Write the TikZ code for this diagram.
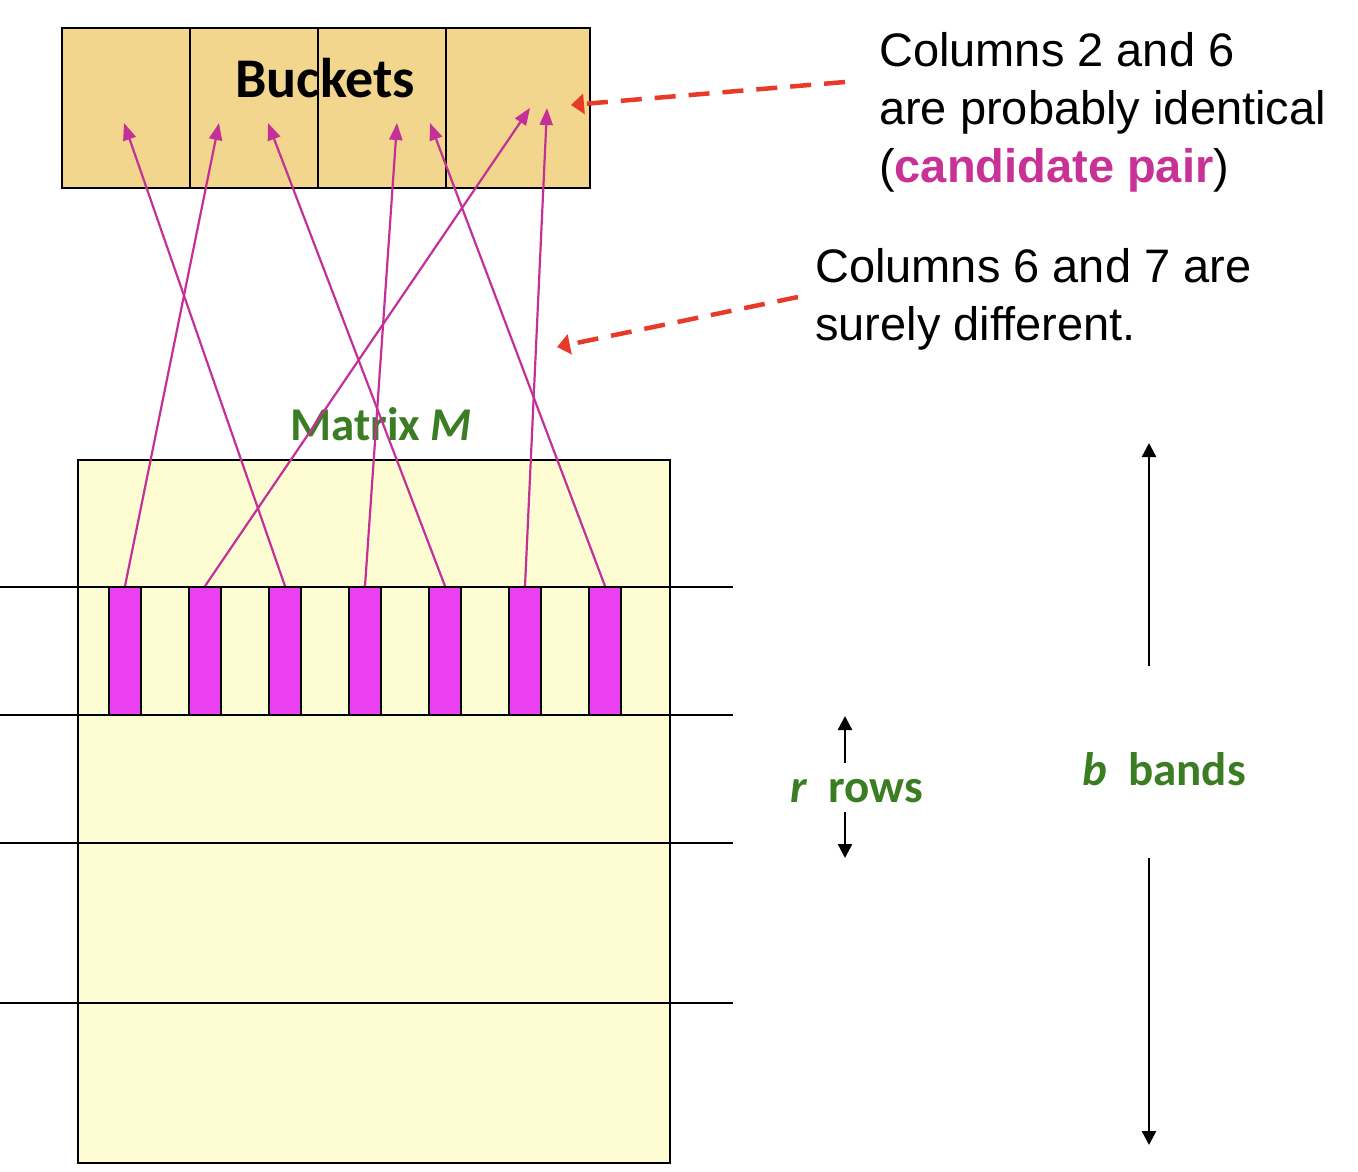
\documentclass[tikz,border=0pt]{standalone}
\usepackage{fontspec}
\setmainfont{Liberation Sans}
\newfontfamily\calfont{Carlito}
\usetikzlibrary{arrows.meta}
\definecolor{bucketfill}{RGB}{242,214,142}
\definecolor{matfill}{RGB}{254,252,211}
\definecolor{barfill}{RGB}{235,64,242}
\definecolor{magline}{RGB}{196,48,152}
\definecolor{lblgreen}{RGB}{59,125,35}
\definecolor{dashred}{RGB}{232,58,41}
\definecolor{candcol}{RGB}{200,50,150}
\begin{document}
\begin{tikzpicture}[x=1pt,y=-1pt,
  bucket/.style={draw=black,line width=2pt,fill=bucketfill,minimum width=128pt,minimum height=160pt,anchor=north west,inner sep=0pt},
  matbox/.style={draw=black,line width=2pt,fill=matfill,minimum width=592pt,minimum height=703pt,anchor=north west,inner sep=0pt},
  bar/.style={draw=black,line width=1.8pt,fill=barfill,minimum width=32pt,minimum height=128pt,inner sep=0pt},
  bandline/.style={black,line width=1.6pt},
  magarrow/.style={magline,line width=2.2pt,-{Triangle[length=17pt,width=13pt]}},
  redarrow/.style={dashred,line width=4.5pt,dash pattern=on 21pt off 13pt,-{Triangle[length=13pt,width=20pt]}},
  blkarrow/.style={black,line width=2.4pt,-{Triangle[length=14pt,width=14pt]}},
  greenlbl/.style={text=lblgreen,font=\calfont\bfseries\fontsize{47}{56}\selectfont,inner sep=0pt},
  sidetext/.style={font=\fontsize{47}{58}\selectfont,align=left,inner sep=0pt,anchor=base west}
]
\useasboundingbox (0,0) rectangle (1358,1172);

% matrix
\node[matbox] (matrix) at (77,459) {};
\draw[bandline] (0,587) -- (733,587);
\draw[bandline] (0,715) -- (733,715);
\draw[bandline] (0,843) -- (733,843);
\draw[bandline] (0,1003) -- (733,1003);
\foreach \i in {1,...,7} {
  \node[bar] (c\i) at ({45+80*\i},651) {};
}
\node[greenlbl,anchor=base] (mlabel) at (381,440) {Matrix \textit{M}};

% buckets
\node[bucket] (b1) at (61,27) {};
\node[bucket] (b2) at (189,27) {};
\node[bucket] (b3) at (317,27) {};
\node[bucket,minimum width=144pt] (b4) at (445,27) {};
\node[font=\calfont\bfseries\fontsize{56}{64}\selectfont,inner sep=0pt,anchor=base] (bklabel) at (325,97) {Buckets};

% arrow tips
\coordinate (t1) at (124,123);
\coordinate (t2) at (219,123);
\coordinate (t3) at (268,123);
\coordinate (t4) at (397,123);
\coordinate (t5) at (430,123);
\coordinate (t6) at (530,108);
\coordinate (t7) at (547,108);

\draw[magarrow] (c1.north) -- (t2);
\draw[magarrow] (c2.north) -- (t6);
\draw[magarrow] (c3.north) -- (t1);
\draw[magarrow] (c4.north) -- (t4);
\draw[magarrow] (c5.north) -- (t3);
\draw[magarrow] (c6.north) -- (t7);
\draw[magarrow] (c7.north) -- (t5);

% side texts (base = last line baseline)
\node[sidetext] (txt1) at (879,182) {Columns 2 and 6\\are probably identical\\(\textbf{\textcolor{candcol}{candidate pair}})};
\node[sidetext] (txt2) at (815,340) {Columns 6 and 7 are\\surely different.};

\coordinate (r1s) at (845,82);
\coordinate (r1e) at (571,105);
\coordinate (r2s) at (798,297);
\coordinate (r2e) at (557,347);
\draw[redarrow] (r1s) -- (r1e);
\draw[redarrow] (r2s) -- (r2e);

% r rows / b bands
\node[greenlbl,anchor=base west] (rrows) at (790,802) {\textit{r}~ rows};
\node[greenlbl,anchor=base west] (bbands) at (1082,785) {\textit{b}~ bands};

\coordinate (ra1) at (845,763);
\coordinate (ra2) at (845,716);
\coordinate (ra3) at (845,812);
\coordinate (ra4) at (845,858);
\draw[blkarrow] (ra1) -- (ra2);
\draw[blkarrow] (ra3) -- (ra4);

\coordinate (ba1) at (1149,666);
\coordinate (ba2) at (1149,443);
\coordinate (ba3) at (1149,858);
\coordinate (ba4) at (1149,1145);
\draw[blkarrow] (ba1) -- (ba2);
\draw[blkarrow] (ba3) -- (ba4);
\end{tikzpicture}
\end{document}
